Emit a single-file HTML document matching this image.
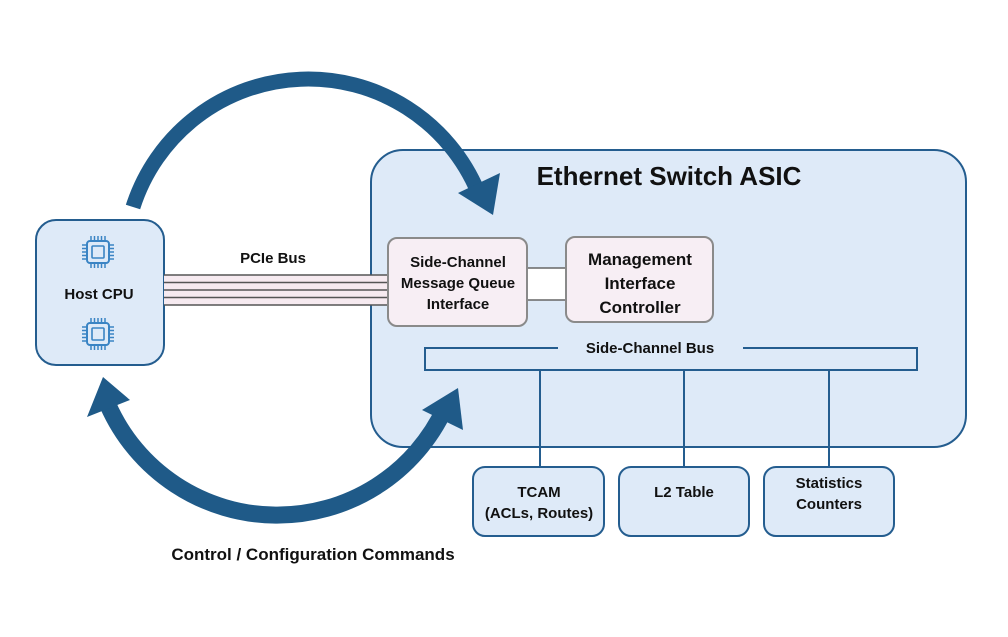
<!DOCTYPE html>
<html><head><meta charset="utf-8"><style>
html,body{margin:0;padding:0;background:#fff}
svg{display:block}
text{font-family:"Liberation Sans",sans-serif;font-weight:bold;fill:#111}
</style></head><body>
<svg width="1008" height="637" viewBox="0 0 1008 637" xmlns="http://www.w3.org/2000/svg">
<defs>
<g id="chip">
<rect x="-11" y="-11" width="22" height="22" rx="3" fill="none" stroke="#3a84c4" stroke-width="2"/>
<rect x="-6" y="-6" width="12" height="12" rx="1" fill="none" stroke="#3a84c4" stroke-width="1.6"/>
<g stroke="#3a84c4" stroke-width="1.5">
<path d="M-7,-11v-5M-3.5,-11v-5M0,-11v-5M3.5,-11v-5M7,-11v-5"/>
<path d="M-7,11v5M-3.5,11v5M0,11v5M3.5,11v5M7,11v5"/>
<path d="M-11,-7h-5M-11,-3.5h-5M-11,0h-5M-11,3.5h-5M-11,7h-5"/>
<path d="M11,-7h5M11,-3.5h5M11,0h5M11,3.5h5M11,7h5"/>
</g>
</g>
</defs>
<!-- ASIC -->
<rect x="371" y="150" width="595" height="297" rx="32" fill="#deeaf8" stroke="#245d8f" stroke-width="2"/>
<text x="669" y="185" font-size="26" text-anchor="middle">Ethernet Switch ASIC</text>
<!-- Host CPU -->
<rect x="36" y="220" width="128" height="145" rx="20" fill="#deeaf8" stroke="#245d8f" stroke-width="2"/>
<use href="#chip" x="98" y="252"/>
<use href="#chip" x="98" y="334"/>
<text x="99" y="299" font-size="15" text-anchor="middle">Host CPU</text>
<!-- PCIe -->
<rect x="164" y="275" width="226" height="30" fill="#f6eaf0"/>
<g stroke="#555" stroke-width="1.6">
<line x1="164" y1="275" x2="390" y2="275"/><line x1="164" y1="282.5" x2="390" y2="282.5"/>
<line x1="164" y1="290" x2="390" y2="290"/><line x1="164" y1="297.5" x2="390" y2="297.5"/>
<line x1="164" y1="305" x2="390" y2="305"/>
</g>
<text x="273" y="263" font-size="15" text-anchor="middle">PCIe Bus</text>
<!-- connector -->
<rect x="526" y="268" width="41" height="32" fill="#fff" stroke="#666" stroke-width="1.5"/>
<rect x="388" y="238" width="139" height="88" rx="9" fill="#f7eef4" stroke="#8a8a8a" stroke-width="2"/>
<text font-size="15" text-anchor="middle"><tspan x="458" y="267">Side-Channel</tspan><tspan x="458" y="288">Message Queue</tspan><tspan x="458" y="309">Interface</tspan></text>
<rect x="566" y="237" width="147" height="85" rx="9" fill="#f7eef4" stroke="#8a8a8a" stroke-width="2"/>
<text font-size="17" text-anchor="middle"><tspan x="640" y="265">Management</tspan><tspan x="640" y="289">Interface</tspan><tspan x="640" y="313">Controller</tspan></text>
<!-- side channel bus -->
<path d="M558,348 H425 V370 H917 V348 H743" fill="none" stroke="#245d8f" stroke-width="2"/>
<text x="650" y="353" font-size="15" text-anchor="middle">Side-Channel Bus</text>
<g stroke="#245d8f" stroke-width="2">
<line x1="540" y1="370" x2="540" y2="467"/><line x1="684" y1="370" x2="684" y2="467"/><line x1="829" y1="370" x2="829" y2="467"/>
</g>
<g fill="#deeaf8" stroke="#245d8f" stroke-width="2">
<rect x="473" y="467" width="131" height="69" rx="12"/>
<rect x="619" y="467" width="130" height="69" rx="12"/>
<rect x="764" y="467" width="130" height="69" rx="12"/>
</g>
<text font-size="15" text-anchor="middle"><tspan x="539" y="497">TCAM</tspan><tspan x="539" y="518">(ACLs, Routes)</tspan></text>
<text x="684" y="497" font-size="15" text-anchor="middle">L2 Table</text>
<text font-size="15" text-anchor="middle"><tspan x="829" y="488">Statistics</tspan><tspan x="829" y="509">Counters</tspan></text>
<!-- arcs -->
<g fill="none" stroke="#1f5a88">
<path d="M133,207 A184,184 0 0 1 478,192" stroke-width="15"/>
<path d="M108,405 A185,185 0 0 0 445,408" stroke-width="17"/>
</g>
<g fill="#1f5a88">
<polygon points="500,173 458,193 493,215"/>
<polygon points="103,377 87,417 130,400"/>
<polygon points="458,388 422,410 463,430"/>
</g>
<text x="313" y="560" font-size="17" text-anchor="middle">Control / Configuration Commands</text>
</svg>
</body></html>
